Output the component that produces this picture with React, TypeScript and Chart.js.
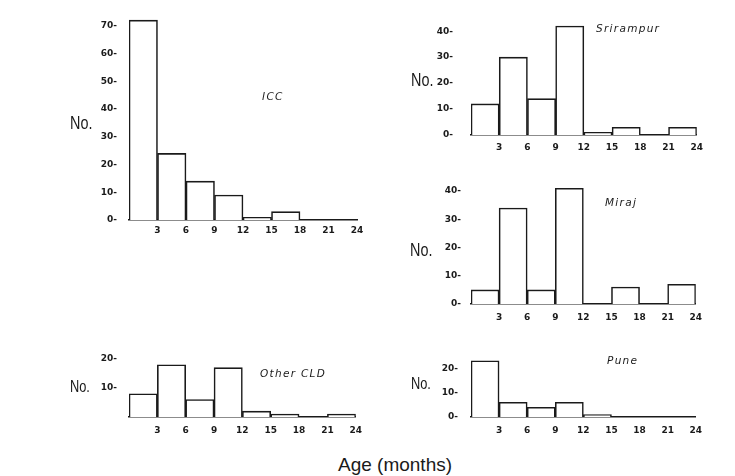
import React, { useEffect, useRef } from "react";
import { Chart, registerables } from "chart.js";

Chart.register(...registerables);

// Age bins (months), bin centres of 3-month classes
const binCentres = [1.5, 4.5, 7.5, 10.5, 13.5, 16.5, 19.5, 22.5];
const xTicks = [0, 3, 6, 9, 12, 15, 18, 21, 24];

const iccCounts = [72, 24, 14, 9, 1, 3, 0, 0];
const srirampurCounts = [12, 30, 14, 42, 1, 3, 0, 3];
const mirajCounts = [5, 34, 5, 41, 0, 6, 0, 7];
const otherCldCounts = [8, 18, 6, 17, 2, 1, 0, 1];
const puneCounts = [23, 6, 4, 6, 1, 0, 0, 0];

const panelNames = ["ICC", "Srirampur", "Miraj", "Other CLD", "Pune"];
const yAxisLabel = "No.";
const xAxisLabel = "Age (months)";

const INK = "#1a1a1a";
const TICK_FONT = { family: "'DejaVu Sans', sans-serif", size: 9, weight: "bold" as const };

type PanelProps = {
  counts: number[];
  yMax: number;
  left: number;
  top: number;
  width: number;
  height: number;
  yWidth: number;
  xHeight: number;
  padTop: number;
  padRight: number;
  yPad: number;
  xPad: number;
  hideZero?: boolean;
};

function Panel(p: PanelProps) {
  const ref = useRef<HTMLCanvasElement | null>(null);
  useEffect(() => {
    if (!ref.current) return;
    const chart = new Chart(ref.current, {
      type: "bar",
      data: {
        datasets: [
          {
            data: binCentres.map((x, i) => ({ x, y: p.counts[i] === 0 ? null : p.counts[i] })),
            backgroundColor: "#ffffff",
            borderColor: INK,
            borderWidth: 1.6,
            barPercentage: 1,
            categoryPercentage: 1,
          },
        ],
      },
      options: {
        responsive: false,
        animation: false,
        layout: { padding: { left: 0, right: p.padRight, top: p.padTop, bottom: 0 } },
        plugins: { legend: { display: false }, tooltip: { enabled: false } },
        scales: {
          x: {
            type: "linear",
            min: 0,
            max: 24,
            offset: false,
            grid: { display: false, offset: false, drawTicks: false },
            border: { display: true, color: INK, width: 1.6 },
            afterBuildTicks: (s: any) => {
              s.ticks = xTicks.map((v) => ({ value: v }));
            },
            afterFit: (s: any) => {
              s.height = p.xHeight;
            },
            ticks: {
              autoSkip: false,
              maxRotation: 0,
              padding: p.xPad,
              color: INK,
              font: TICK_FONT,
              callback: (v: any) => (Number(v) === 0 ? "" : String(v)),
            },
          },
          y: {
            min: 0,
            max: p.yMax,
            grid: { display: false, drawTicks: false },
            border: { display: false },
            afterFit: (s: any) => {
              s.width = p.yWidth;
            },
            ticks: {
              stepSize: 10,
              includeBounds: false,
              padding: p.yPad,
              color: INK,
              font: TICK_FONT,
              callback: (v: any) => (p.hideZero && Number(v) === 0 ? "" : `${v}-`),
            },
          },
        },
      },
    });
    return () => chart.destroy();
  }, []);
  return (
    <canvas
      ref={ref}
      width={p.width}
      height={p.height}
      style={{ position: "absolute", left: p.left, top: p.top, width: p.width, height: p.height }}
    />
  );
}

const noStyle = (left: number, top: number, size: number): React.CSSProperties => ({
  position: "absolute",
  left,
  top,
  fontFamily: "'Liberation Sans Narrow', 'Liberation Sans', sans-serif",
  fontSize: size,
  lineHeight: 1,
  color: INK,
  transform: "scaleX(0.8)",
  transformOrigin: "left top",
  whiteSpace: "nowrap",
});

const nameStyle = (left: number, top: number): React.CSSProperties => ({
  position: "absolute",
  left,
  top,
  fontFamily: "'DejaVu Sans', sans-serif",
  fontStyle: "italic",
  fontSize: 10.5,
  letterSpacing: 1.3,
  lineHeight: 1,
  color: INK,
  whiteSpace: "nowrap",
});

export default function App() {
  return (
    <div
      style={{
        position: "fixed",
        left: 0,
        top: 0,
        width: 735,
        height: 476,
        background: "#ffffff",
        overflow: "hidden",
      }}
    >
      <Panel counts={iccCounts} yMax={73} left={40} top={0} width={330} height={245}
        yWidth={89} xHeight={25} padTop={7} padRight={13} yPad={12} xPad={5} />
      <Panel counts={srirampurCounts} yMax={43} left={400} top={0} width={310} height={160}
        yWidth={71} xHeight={25} padTop={12} padRight={13} yPad={18} xPad={7} />
      <Panel counts={mirajCounts} yMax={42} left={400} top={170} width={310} height={160}
        yWidth={71} xHeight={26} padTop={12} padRight={13} yPad={10} xPad={8} />
      <Panel counts={otherCldCounts} yMax={20} left={40} top={340} width={330} height={100}
        yWidth={89} xHeight={23} padTop={19} padRight={13} yPad={12} xPad={8} hideZero />
      <Panel counts={puneCounts} yMax={24} left={400} top={340} width={310} height={100}
        yWidth={71} xHeight={23} padTop={9} padRight={13} yPad={13} xPad={8} />

      <div style={noStyle(70, 114, 18)}>{yAxisLabel}</div>
      <div style={noStyle(411, 71, 18)}>{yAxisLabel}</div>
      <div style={noStyle(410, 241, 18)}>{yAxisLabel}</div>
      <div style={noStyle(70, 379, 16)}>{yAxisLabel}</div>
      <div style={noStyle(411, 376, 16)}>{yAxisLabel}</div>

      <div style={nameStyle(262, 91)}>{panelNames[0]}</div>
      <div style={nameStyle(596, 23)}>{panelNames[1]}</div>
      <div style={nameStyle(605, 197)}>{panelNames[2]}</div>
      <div style={nameStyle(260, 368)}>{panelNames[3]}</div>
      <div style={nameStyle(607, 355)}>{panelNames[4]}</div>

      <div
        style={{
          position: "absolute",
          left: 338,
          top: 455,
          fontFamily: "'Liberation Sans Narrow', 'Liberation Sans', sans-serif",
          fontSize: 19,
          lineHeight: 1,
          color: INK,
          whiteSpace: "nowrap",
        }}
      >
        {xAxisLabel}
      </div>
    </div>
  );
}
